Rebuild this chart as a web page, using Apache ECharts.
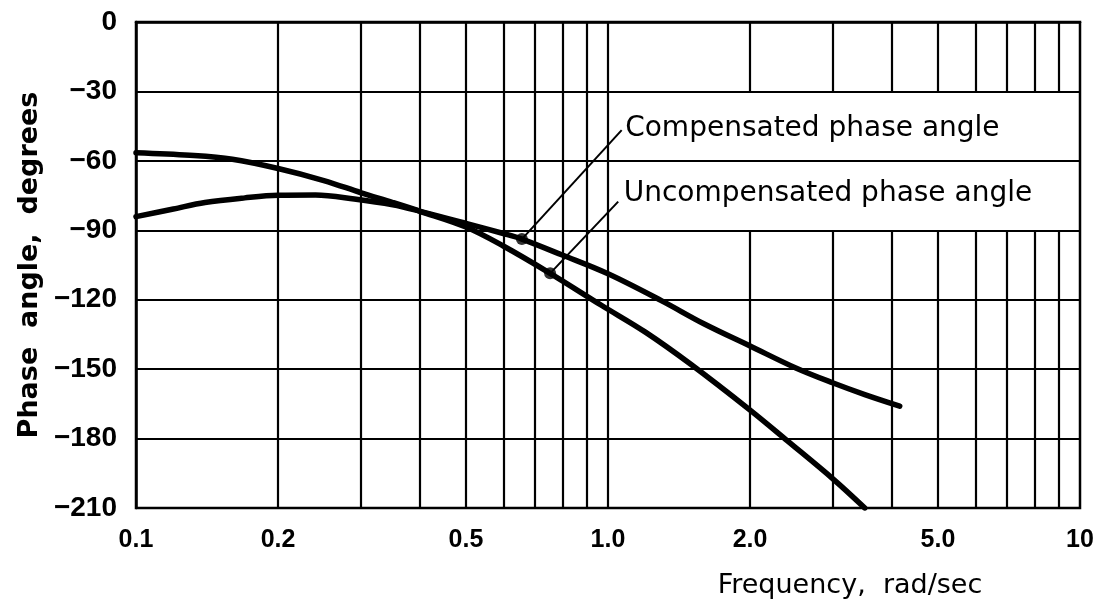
<!DOCTYPE html>
<html>
<head>
<meta charset="utf-8">
<script src="https://cdn.jsdelivr.net/npm/echarts@6/dist/echarts.min.js"></script>
<style>
html,body{margin:0;padding:0;background:#fff;}
#chart{width:1099px;height:609px;}
</style>
</head>
<body>
<div id="chart"></div>
<script>
// ---- data ----
const compFreq  = [0.1, 0.12, 0.14, 0.17, 0.2, 0.24, 0.29, 0.35, 0.4, 0.5, 0.6, 0.657, 0.8, 1.0, 1.3, 1.6, 2.0, 2.5, 3.0, 3.5, 4.15];
const compPhase = [-84.1, -80.8, -78.0, -76.0, -74.9, -74.8, -76.5, -79.0, -81.8, -87.0, -91.4, -93.8, -100.7, -108.8, -120.5, -130.5, -140.0, -149.5, -156.0, -161.0, -166.0];

const uncompFreq  = [0.1, 0.13, 0.16, 0.2, 0.25, 0.3, 0.35, 0.4, 0.5, 0.6, 0.754, 0.97, 1.2, 1.5, 2.0, 2.4, 3.0, 3.5];
const uncompPhase = [-56.5, -57.6, -59.3, -63.3, -68.5, -73.8, -78.0, -81.8, -88.6, -96.8, -108.6, -122.5, -134.0, -148.0, -167.7, -181.0, -197.5, -210.0];

// annotation points: [dot on curve, end of leader]
const compMarker   = [[0.657, -93.8], [1.069, -46.7]];
const uncompMarker = [[0.754, -108.6], [1.051, -77.6]];
const compText   = "Compensated phase angle";
const uncompText = "Uncompensated phase angle";

// axes
const xTickValues = [0.1, 0.2, 0.5, 1, 2, 5, 10];
const xTickLabels = ["0.1", "0.2", "0.5", "1.0", "2.0", "5.0", "10"];
const yTicks      = [0, -30, -60, -90, -120, -150, -180, -210];
const yTickLabels = ["0", "\u221230", "\u221260", "\u221290", "\u2212120", "\u2212150", "\u2212180", "\u2212210"];
const xName = "Frequency,  rad/sec";
const yName = "Phase  angle,  degrees";

// log grid lines
const fullGridX    = [0.2, 0.3, 0.4, 0.5, 0.6, 0.7, 0.8, 0.9, 1.0];
const partialGridX = [2, 3, 4, 5, 6, 7, 8, 9];
const partialSpans = [[0, -30], [-90, -210]];

const zip = (a, b) => a.map((v, i) => [v, b[i]]);

const gridLineData = [];
fullGridX.forEach(v => gridLineData.push({ xAxis: v }));
partialGridX.forEach(v => partialSpans.forEach(s => {
  gridLineData.push([{ coord: [v, s[0]] }, { coord: [v, s[1]] }]);
}));

const labelStyle = { color: '#000', fontFamily: 'DejaVu Sans', fontSize: 28, textBorderWidth: 0 };

const chart = echarts.init(document.getElementById('chart'), null, { renderer: 'canvas' });
chart.setOption({
  animation: false,
  backgroundColor: '#fff',
  grid: { left: 136, right: 19, top: 22, bottom: 101, show: true, borderColor: '#000', borderWidth: 2.5, backgroundColor: 'transparent' },
  xAxis: {
    type: 'log', logBase: 10, min: 0.1, max: 10,
    axisLine: { show: true, lineStyle: { color: '#000', width: 2.5 } },
    axisTick: { show: false },
    splitLine: { show: false },
    minorTick: { show: false },
    axisLabel: {
      customValues: xTickValues,
      formatter: v => { const i = xTickValues.findIndex(t => Math.abs(t - v) < 1e-9); return i >= 0 ? xTickLabels[i] : ''; },
      margin: 20, color: '#000', fontFamily: 'Liberation Sans', fontWeight: 'bold', fontSize: 25
    },
    name: xName, nameLocation: 'middle', nameGap: 64,
    nameTextStyle: { color: '#000', fontFamily: 'DejaVu Sans', fontSize: 27, padding: [0, 0, 0, 484] }
  },
  yAxis: {
    type: 'value', min: -210, max: 0, interval: 30,
    axisLine: { show: true, lineStyle: { color: '#000', width: 2.5 } },
    axisTick: { show: false },
    splitLine: { show: true, lineStyle: { color: '#000', width: 2.2 } },
    axisLabel: {
      formatter: v => { const i = yTicks.indexOf(v); return i >= 0 ? yTickLabels[i] : ''; },
      margin: 19, color: '#000', fontFamily: 'Liberation Sans', fontWeight: 'bold', fontSize: 28
    },
    name: yName, nameLocation: 'middle', nameGap: 92, nameRotate: 90,
    nameTextStyle: { color: '#000', fontFamily: 'DejaVu Sans', fontWeight: 'bold', fontSize: 27 }
  },
  series: [
    {
      name: 'grid', type: 'line', data: [], z: 1, silent: true,
      markLine: {
        silent: true, symbol: ['none', 'none'], animation: false,
        label: { show: false },
        lineStyle: { color: '#000', width: 2.2, type: 'solid' },
        emphasis: { disabled: true },
        data: gridLineData
      }
    },
    {
      name: 'Compensated', type: 'line', data: zip(compFreq, compPhase),
      smooth: 0.35, showSymbol: false, symbol: 'none', z: 5,
      lineStyle: { color: '#000', width: 5.5, cap: 'round' }
    },
    {
      name: 'Uncompensated', type: 'line', data: zip(uncompFreq, uncompPhase),
      smooth: 0.35, showSymbol: false, symbol: 'none', z: 5, clip: true,
      lineStyle: { color: '#000', width: 5.5, cap: 'round' }
    },
    {
      name: 'compLeader', type: 'line', data: compMarker, symbol: 'none', z: 6,
      lineStyle: { color: '#000', width: 2 }
    },
    {
      name: 'uncompLeader', type: 'line', data: uncompMarker, symbol: 'none', z: 6,
      lineStyle: { color: '#000', width: 2 }
    },
    {
      name: 'dots', type: 'scatter', z: 7,
      data: [compMarker[0], uncompMarker[0]],
      symbol: 'circle', symbolSize: 12, itemStyle: { color: '#000' }
    },
    {
      name: 'labels', type: 'scatter', z: 7,
      symbolSize: 1, itemStyle: { color: 'rgba(0,0,0,0)', opacity: 1 },
      data: [
        { value: compMarker[1], label: Object.assign({ show: true, position: 'right', distance: 3, formatter: compText, offset: [0, -1] }, labelStyle) },
        { value: uncompMarker[1], label: Object.assign({ show: true, position: 'right', distance: 5, formatter: uncompText, offset: [0, -8] }, labelStyle) }
      ],
      label: labelStyle
    }
  ]
});
</script>
</body>
</html>
